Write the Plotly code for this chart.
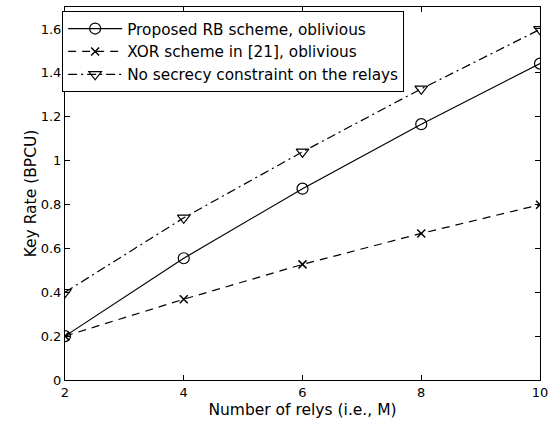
import plotly.graph_objects as go

relays = [2, 4, 6, 8, 10]
rb_oblivious = [0.2, 0.555, 0.872, 1.166, 1.442]
xor_oblivious = [0.2, 0.368, 0.527, 0.668, 0.799]
no_secrecy = [0.4, 0.739, 1.04, 1.327, 1.598]

x_ticks = [2, 4, 6, 8, 10]
y_ticks = [0, 0.2, 0.4, 0.6, 0.8, 1.0, 1.2, 1.4, 1.6]
y_tick_labels = ["0", "0.2", "0.4", "0.6", "0.8", "1", "1.2", "1.4", "1.6"]

names = ["Proposed RB scheme, oblivious",
         "XOR scheme in [21], oblivious",
         "No secrecy constraint on the relays"]

FONT = "DejaVu Sans"

fig = go.Figure()
fig.add_trace(go.Scatter(x=relays, y=rb_oblivious, name=names[0], mode="lines+markers",
                         line=dict(color="black", width=1.2, dash="solid"),
                         marker=dict(symbol="circle-open", size=11, color="black", line=dict(width=1.2))))
fig.add_trace(go.Scatter(x=relays, y=xor_oblivious, name=names[1], mode="lines+markers",
                         line=dict(color="black", width=1.2, dash="8px,6px"),
                         marker=dict(symbol="x-thin-open", size=8, color="black", line=dict(width=1.5))))
fig.add_trace(go.Scatter(x=relays, y=no_secrecy, name=names[2], mode="lines+markers",
                         line=dict(color="black", width=1.2, dash="9px,4px,2px,4px"),
                         marker=dict(symbol="triangle-down-open", size=11, color="black", line=dict(width=1.2))))

axis_common = dict(showline=True, linecolor="black", linewidth=1, mirror="ticks",
                   ticks="inside", ticklen=5, tickcolor="black", tickwidth=1,
                   showgrid=False, zeroline=False,
                   tickfont=dict(family=FONT, size=13, color="black"),
                   title_font=dict(family=FONT, size=15.5, color="black"))

fig.update_xaxes(range=[2, 10], tickvals=x_ticks, title_text="Number of relys (i.e., M)",
                 title_standoff=5, **axis_common)
fig.update_yaxes(range=[0, 1.7], tickvals=y_ticks, ticktext=y_tick_labels,
                 title_text="Key Rate (BPCU)", title_standoff=0, **axis_common)

fig.update_layout(
    width=559, height=426,
    margin=dict(l=65, r=19, t=7, b=46),
    plot_bgcolor="white", paper_bgcolor="white",
    showlegend=True,
    legend=dict(x=-0.006, y=0.989, xanchor="left", yanchor="top",
                bordercolor="black", borderwidth=1, bgcolor="white",
                font=dict(family=FONT, size=15.3, color="black"),
                itemwidth=54, tracegroupgap=0),
)

fig.write_html("out.html", config={"displayModeBar": False},
               post_script="document.body.style.margin='0';")
